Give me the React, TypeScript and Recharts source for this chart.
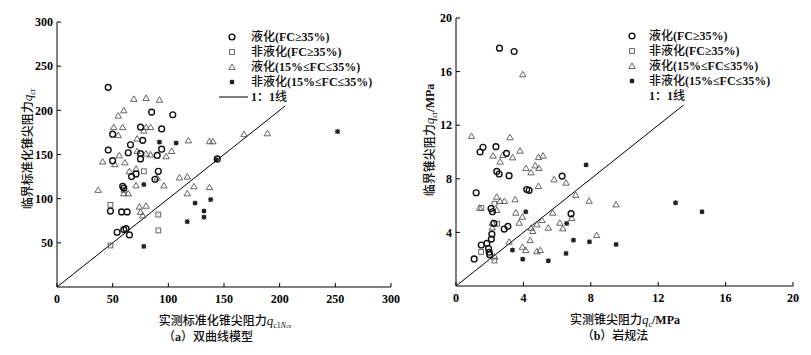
import React from "react";
import { ScatterChart, Scatter, XAxis, YAxis, ReferenceLine } from "recharts";

// (a) 双曲线模型 — [实测 qc1Ncs, 临界 qcr]
const aLiqHighFc: [number, number][] = [
  [46, 226], [85, 198], [104, 195], [75, 181], [94, 179], [50, 173], [77, 166], [66, 161],
  [94, 156], [46, 155], [64, 152], [75, 151], [75, 145], [90, 149], [50, 143], [91, 131],
  [67, 125], [71, 128], [88, 122], [59, 114], [60, 112], [48, 86], [58, 85], [63, 85],
  [54, 62], [60, 65], [62, 66], [65, 59], [144, 145],
];
const aNonLiqHighFc: [number, number][] = [
  [48, 93], [78, 131], [91, 82], [91, 64], [48, 47], [60, 110],
];
const aLiqMidFc: [number, number][] = [
  [41, 142], [52, 139], [56, 149], [61, 141], [72, 154], [80, 151], [84, 150], [98, 148],
  [103, 154], [55, 194], [60, 200], [69, 213], [80, 214], [92, 212], [51, 181], [59, 181],
  [55, 172], [80, 181], [84, 181], [78, 177], [72, 168], [118, 166], [137, 165], [140, 165],
  [168, 173], [189, 174], [65, 131], [71, 134], [37, 110], [60, 106], [64, 106], [71, 115],
  [96, 115], [90, 124], [110, 124], [117, 125], [123, 114], [137, 113], [117, 106], [74, 91],
  [80, 92], [75, 85], [77, 81],
];
const aNonLiqMidFc: [number, number][] = [
  [92, 164], [107, 163], [143, 144], [78, 116], [124, 95], [138, 99], [117, 74], [132, 86],
  [132, 79], [78, 46], [252, 176],
];
const aOneToOne = [{ x: 0, y: 0 }, { x: 205, y: 205 }];
const aXTicks = [0, 50, 100, 150, 200, 250, 300];
const aYTicks = [50, 100, 150, 200, 250, 300];

// (b) 岩规法 — [实测 qc, 临界 qcr] (MPa)
const bLiqHighFc: [number, number][] = [
  [2.58, 17.75], [3.45, 17.5], [1.43, 10.0], [1.6, 10.35], [2.37, 10.4], [3.0, 9.9],
  [2.42, 8.55], [2.56, 8.36], [3.15, 8.23], [6.3, 8.2], [1.2, 6.96], [4.2, 7.2], [4.34, 7.14],
  [2.08, 5.78], [2.16, 5.54], [2.25, 4.67], [2.13, 3.87], [2.1, 3.5], [1.83, 3.18], [1.5, 3.06],
  [1.93, 2.8], [1.97, 2.52], [2.0, 2.34], [1.08, 2.02], [2.86, 4.25], [3.08, 4.45], [6.83, 5.4],
];
const bNonLiqHighFc: [number, number][] = [
  [1.51, 5.82], [2.28, 6.14], [2.45, 4.65], [1.49, 2.54], [2.28, 1.9],
];
const bLiqMidFc: [number, number][] = [
  [3.96, 15.8], [0.92, 11.2], [3.2, 11.1], [2.2, 9.73], [2.62, 9.28], [2.78, 9.78], [3.36, 9.6],
  [3.8, 10.1], [4.15, 8.8], [4.45, 8.48], [4.7, 9.0], [4.92, 8.8], [4.9, 9.62], [5.17, 9.73],
  [5.82, 7.96], [6.53, 7.71], [4.89, 7.46], [2.42, 6.66], [2.62, 6.34], [2.87, 6.34], [3.51, 6.47],
  [7.1, 6.8], [7.9, 6.36], [9.5, 6.09], [1.4, 5.84], [2.42, 5.67], [3.55, 5.47], [5.74, 5.47],
  [3.75, 4.72], [3.94, 5.17], [5.1, 4.92], [4.8, 4.6], [4.46, 4.35], [4.56, 4.1], [5.48, 4.35],
  [6.16, 4.72], [6.34, 4.3], [6.87, 5.08], [2.16, 4.72], [2.15, 4.37], [3.15, 3.3], [4.4, 3.42],
  [3.94, 2.92], [4.14, 2.68], [4.8, 2.58], [5.0, 2.68], [8.35, 3.8], [2.3, 2.2],
];
const bNonLiqMidFc: [number, number][] = [
  [7.72, 9.04], [4.14, 5.54], [6.57, 4.67], [6.97, 3.42], [7.92, 3.3], [9.5, 3.1], [3.35, 2.68],
  [6.53, 2.43], [3.96, 2.0], [5.48, 1.88], [13.03, 6.21], [14.6, 5.54],
];
const bOneToOne = [{ x: 0, y: 0 }, { x: 13.5, y: 13.5 }];
const bXTicks = [0, 4, 8, 12, 16, 20];
const bYTicks = [4, 8, 12, 16, 20];

const legendLabels = [
  "液化(FC≥35%)",
  "非液化(FC≥35%)",
  "液化(15%≤FC≤35%)",
  "非液化(15%≤FC≤35%)",
  "1：1线",
];

const pts = (arr: [number, number][]) => arr.map(([x, y]) => ({ x, y }));

const SERIF = "'Liberation Serif', 'Noto Sans CJK SC', serif";
const tickStyle = { fontSize: 12, fill: "#000", fontFamily: SERIF, fontWeight: "bold" };

// CJK runs medium, latin runs bold (serif primary font, CJK falls back)
function Mixed({ text }: { text: string }) {
  const parts = text.split(/([\u4e00-\u9fff（）：]+)/).filter(Boolean);
  return (
    <>
      {parts.map((p, i) =>
        /[\u4e00-\u9fff（）：]/.test(p) ? (
          <span key={i} style={{ fontWeight: 500 }}>{p}</span>
        ) : (
          <span key={i} style={{ fontWeight: "bold" }}>{p}</span>
        )
      )}
    </>
  );
}

// marker shapes
const Circle = ({ cx, cy }: any) => (
  <circle cx={cx} cy={cy} r={2.9} fill="none" stroke="#111" strokeWidth={1.4} />
);
const Square = ({ cx, cy }: any) => (
  <rect x={cx - 2.4} y={cy - 2.4} width={4.8} height={4.8} fill="none" stroke="#555" strokeWidth={0.9} />
);
const Tri = ({ cx, cy }: any) => (
  <path
    d={`M${cx},${cy - 3} L${cx + 3.2},${cy + 2.5} L${cx - 3.2},${cy + 2.5}Z`}
    fill="none"
    stroke="#555"
    strokeWidth={0.9}
  />
);
const Star = ({ cx, cy }: any) => (
  <g>
    <rect x={cx - 2} y={cy - 2} width={4} height={4} fill="#222" />
    <path
      d={`M${cx - 2.6},${cy} H${cx + 2.6} M${cx},${cy - 2.6} V${cy + 2.6} M${cx - 2},${cy - 2} L${cx + 2},${cy + 2} M${cx + 2},${cy - 2} L${cx - 2},${cy + 2}`}
      stroke="#222"
      strokeWidth={0.8}
    />
  </g>
);
const markers = [Circle, Square, Tri, Star];

function Legend({ left, top, markerX, textX, showLine }: any) {
  return (
    <div style={{ position: "absolute", left: 0, top: 0 }}>
      {legendLabels.map((lab, i) => {
        const y = top + i * 15;
        const M = markers[i];
        return (
          <React.Fragment key={lab}>
            {M ? (
              <svg
                width={10}
                height={10}
                style={{ position: "absolute", left: left + markerX - 5, top: y - 5 }}
              >
                <M cx={5} cy={5} />
              </svg>
            ) : showLine ? (
              <svg width={30} height={4} style={{ position: "absolute", left: left + markerX - 13, top: y - 2 }}>
                <line x1={0} y1={2} x2={29} y2={2} stroke="#000" strokeWidth={1} />
              </svg>
            ) : null}
            <div
              style={{
                position: "absolute",
                left: left + textX,
                top: y - 7,
                lineHeight: "14px",
                height: 14,
                fontSize: 12,
                whiteSpace: "nowrap",
                color: "#111",
              }}
            >
              <Mixed text={lab} />
            </div>
          </React.Fragment>
        );
      })}
    </div>
  );
}

function Txt({ x, y, rotate, children, size = 12 }: any) {
  return (
    <div
      style={{
        position: "absolute",
        left: x,
        top: y,
        transform: `translate(-50%, -50%)${rotate ? " rotate(-90deg)" : ""}`,
        fontSize: size,
        whiteSpace: "nowrap",
        color: "#111",
        lineHeight: "14px",
        height: 14,
      }}
    >
      {children}
    </div>
  );
}

const Q = () => <i style={{ fontSize: 13 }}>q</i>;
const Sub = ({ children, size = 8, drop = 3 }: any) => (
  <span style={{ fontSize: size, position: "relative", top: drop }}>{children}</span>
);

const axisLine = { stroke: "#000", strokeWidth: 1 };

export default function App() {
  return (
    <div
      style={{
        position: "absolute",
        left: 0,
        top: 0,
        width: 811,
        height: 355,
        background: "#fff",
        fontFamily: SERIF,
        overflow: "hidden",
      }}
    >
      <div style={{ position: "absolute", left: 0, top: 0 }}>
        <ScatterChart width={400} height={355} margin={{ top: 22, right: 9, bottom: 38, left: 17 }}>
          <XAxis
            type="number"
            dataKey="x"
            domain={[0, 300]}
            ticks={aXTicks}
            height={30}
            axisLine={axisLine}
            tickLine={axisLine}
            tickSize={-4}
            tickMargin={11}
            tick={tickStyle}
          />
          <YAxis
            type="number"
            dataKey="y"
            domain={[0, 300]}
            ticks={aYTicks}
            width={40}
            axisLine={axisLine}
            tickLine={axisLine}
            tickSize={-4}
            tickMargin={8}
            tick={tickStyle}
          />
          <ReferenceLine segment={aOneToOne} stroke="#000" strokeWidth={1} ifOverflow="visible" />
          <Scatter data={pts(aLiqMidFc)} shape={Tri} isAnimationActive={false} />
          <Scatter data={pts(aNonLiqHighFc)} shape={Square} isAnimationActive={false} />
          <Scatter data={pts(aNonLiqMidFc)} shape={Star} isAnimationActive={false} />
          <Scatter data={pts(aLiqHighFc)} shape={Circle} isAnimationActive={false} />
        </ScatterChart>
      </div>
      <div style={{ position: "absolute", left: 400, top: 0 }}>
        <ScatterChart width={411} height={355} margin={{ top: 18, right: 18, bottom: 39, left: 16 }}>
          <XAxis
            type="number"
            dataKey="x"
            domain={[0, 20]}
            ticks={bXTicks}
            height={30}
            axisLine={axisLine}
            tickLine={axisLine}
            tickSize={-4}
            tickMargin={11}
            tick={tickStyle}
          />
          <YAxis
            type="number"
            dataKey="y"
            domain={[0, 20]}
            ticks={bYTicks}
            width={40}
            axisLine={axisLine}
            tickLine={axisLine}
            tickSize={-4}
            tickMargin={8}
            tick={tickStyle}
          />
          <ReferenceLine segment={bOneToOne} stroke="#000" strokeWidth={1} ifOverflow="visible" />
          <Scatter data={pts(bLiqMidFc)} shape={Tri} isAnimationActive={false} />
          <Scatter data={pts(bNonLiqHighFc)} shape={Square} isAnimationActive={false} />
          <Scatter data={pts(bNonLiqMidFc)} shape={Star} isAnimationActive={false} />
          <Scatter data={pts(bLiqHighFc)} shape={Circle} isAnimationActive={false} />
        </ScatterChart>
      </div>

      <Legend left={0} top={37} markerX={232} textX={251} showLine />
      <Legend left={400} top={36} markerX={232} textX={249} showLine={false} />

      <Txt x={28} y={149} rotate>
        <Mixed text="临界标准化锥尖阻力" />
        <Q />
        <Sub>cr</Sub>
      </Txt>
      <Txt x={225} y={321}>
        <Mixed text="实测标准化锥尖阻力" />
        <Q />
        <Sub>
          c1<i>N</i>
          <span style={{ fontSize: 6 }}>cs</span>
        </Sub>
      </Txt>
      <Txt x={208} y={337}>
        <Mixed text="（a）双曲线模型" />
      </Txt>

      <Txt x={430} y={140} rotate>
        <Mixed text="临界锥尖阻力" />
        <Q />
        <Sub>cr</Sub>
        <span style={{ fontWeight: "bold" }}>/MPa</span>
      </Txt>
      <Txt x={625} y={320}>
        <Mixed text="实测锥尖阻力" />
        <Q />
        <Sub>c</Sub>
        <span style={{ fontWeight: "bold" }}>/MPa</span>
      </Txt>
      <Txt x={615} y={336}>
        <Mixed text="（b）岩规法" />
      </Txt>
    </div>
  );
}
